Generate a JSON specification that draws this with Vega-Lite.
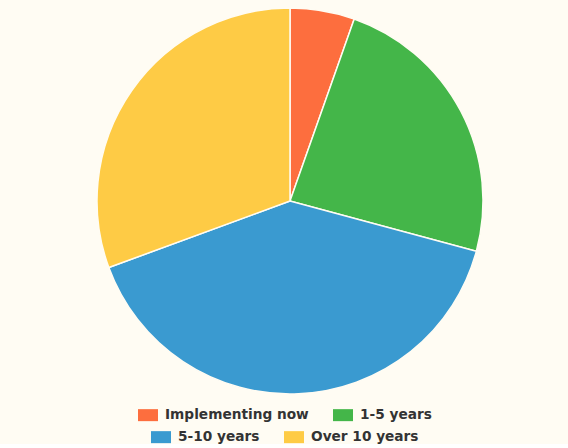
{
  "$schema": "https://vega.github.io/schema/vega-lite/v6.json",
  "width": 580,
  "height": 402,
  "padding": 0,
  "autosize": {"type": "pad"},
  "background": "#fffcf3",
  "view": {"stroke": null},
  "data": {
    "values": [
      {"category": "Implementing now", "value": 5.4, "rank": 1},
      {"category": "1-5 years", "value": 23.8, "rank": 2},
      {"category": "5-10 years", "value": 40.2, "rank": 3},
      {"category": "Over 10 years", "value": 30.6, "rank": 4}
    ]
  },
  "config": {
    "legend": {
      "title": null,
      "orient": "none",
      "direction": "horizontal",
      "symbolType": "M-1,-0.6H1V0.6H-1Z",
      "symbolSize": 400,
      "symbolStrokeWidth": 0,
      "labelFont": "DejaVu Sans",
      "labelFontWeight": "bold",
      "labelFontSize": 13.7,
      "labelColor": "#333333",
      "labelOffset": 7,
      "columnPadding": 24,
      "labelLimit": 300
    }
  },
  "layer": [
    {
      "mark": {"type": "arc", "outerRadius": 193, "stroke": "#fffcf3", "strokeWidth": 1.5},
      "encoding": {
        "theta": {"field": "value", "type": "quantitative", "stack": true},
        "order": {"field": "rank", "type": "quantitative"},
        "color": {
          "field": "category",
          "type": "nominal",
          "scale": {
            "domain": ["Implementing now", "1-5 years", "5-10 years", "Over 10 years"],
            "range": ["#fd6e3e", "#44b649", "#3a9ad0", "#fecb45"]
          },
          "legend": {
            "values": ["Implementing now", "1-5 years"],
            "legendX": 138,
            "legendY": 405
          }
        }
      }
    },
    {
      "mark": {"type": "arc", "outerRadius": 193, "stroke": "#fffcf3", "strokeWidth": 1.5},
      "encoding": {
        "theta": {"field": "value", "type": "quantitative", "stack": true},
        "order": {"field": "rank", "type": "quantitative"},
        "color": {
          "field": "category",
          "type": "nominal",
          "scale": {
            "domain": ["Implementing now", "1-5 years", "5-10 years", "Over 10 years"],
            "range": ["#fd6e3e", "#44b649", "#3a9ad0", "#fecb45"]
          },
          "legend": {
            "values": ["5-10 years", "Over 10 years"],
            "legendX": 151,
            "legendY": 427
          }
        }
      }
    }
  ],
  "resolve": {"scale": {"color": "independent"}}
}
